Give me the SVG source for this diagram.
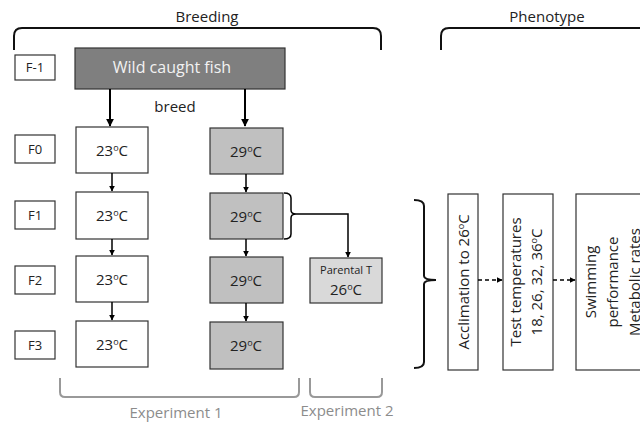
<svg xmlns="http://www.w3.org/2000/svg" width="640" height="424" viewBox="0 0 640 424">
<defs>
<marker id="ah" viewBox="0 0 10 10" refX="9" refY="5" markerWidth="4" markerHeight="4" orient="auto" markerUnits="strokeWidth"><path d="M0,0 L10,5 L0,10 z" fill="#000"/></marker>
<marker id="ah2" viewBox="0 0 10 10" refX="9" refY="5" markerWidth="5" markerHeight="5" orient="auto" markerUnits="strokeWidth"><path d="M0,0 L10,5 L0,10 z" fill="#000"/></marker>
</defs>
<style>
text{font-family:"Open Sans","Liberation Sans",sans-serif;fill:#222;}
.lbl{font-size:13px;text-anchor:middle;}
.t{font-size:15px;text-anchor:middle;}
.box{stroke:#333;stroke-width:1.2;}
.w{fill:#fff;}
.g{fill:#c0c0c0;}
.br{fill:none;stroke:#111;stroke-width:2;}
.gb{fill:none;stroke:#999;stroke-width:2;}
.ln{fill:none;stroke:#000;stroke-width:1.5;}
.sup{font-size:9px;}
</style>
<rect width="640" height="424" fill="#fff"/>
<text x="207" y="22" class="t">Breeding</text>
<text x="547" y="22" class="t">Phenotype</text>
<g id="labels">
<g id="lF-1"><rect x="15" y="55" width="40" height="25" class="box w"/><text x="35" y="72" class="lbl">F-1</text></g>
<g id="lF0"><rect x="15" y="135" width="40" height="28" class="box w"/><text x="35" y="154" class="lbl">F0</text></g>
<g id="lF1"><rect x="15" y="201" width="40" height="28" class="box w"/><text x="35" y="220" class="lbl">F1</text></g>
<g id="lF2"><rect x="15" y="266" width="40" height="28" class="box w"/><text x="35" y="285" class="lbl">F2</text></g>
<g id="lF3"><rect x="15" y="331" width="40" height="28" class="box w"/><text x="35" y="350" class="lbl">F3</text></g>
</g>
<g id="wild"><rect x="75" y="48" width="210" height="41" fill="#7f7f7f" class="box"/><text x="172" y="73" class="t" style="fill:#f2f2f2;font-size:16px">Wild caught fish</text></g>
<text x="175" y="112" class="t">breed</text>
<g id="c23_0"><rect x="76" y="127" width="72" height="46" class="box w"/><text x="112" y="156" class="t">23<tspan class="sup" dy="-5">o</tspan><tspan dy="5">C</tspan></text></g>
<g id="c23_1"><rect x="76" y="192" width="72" height="47" class="box w"/><text x="112" y="221" class="t">23<tspan class="sup" dy="-5">o</tspan><tspan dy="5">C</tspan></text></g>
<g id="c23_2"><rect x="76" y="256" width="72" height="46" class="box w"/><text x="112" y="285" class="t">23<tspan class="sup" dy="-5">o</tspan><tspan dy="5">C</tspan></text></g>
<g id="c23_3"><rect x="76" y="321" width="72" height="46" class="box w"/><text x="112" y="350" class="t">23<tspan class="sup" dy="-5">o</tspan><tspan dy="5">C</tspan></text></g>
<g id="c29_0"><rect x="210" y="128" width="73" height="46" class="box g"/><text x="246" y="157" class="t">29<tspan class="sup" dy="-5">o</tspan><tspan dy="5">C</tspan></text></g>
<g id="c29_1"><rect x="210" y="193" width="73" height="46" class="box g"/><text x="246" y="222" class="t">29<tspan class="sup" dy="-5">o</tspan><tspan dy="5">C</tspan></text></g>
<g id="c29_2"><rect x="210" y="257" width="73" height="46" class="box g"/><text x="246" y="286" class="t">29<tspan class="sup" dy="-5">o</tspan><tspan dy="5">C</tspan></text></g>
<g id="c29_3"><rect x="210" y="322" width="73" height="47" class="box g"/><text x="246" y="351" class="t">29<tspan class="sup" dy="-5">o</tspan><tspan dy="5">C</tspan></text></g>
<g id="parental"><rect x="310" y="258" width="72" height="45" fill="#d9d9d9" class="box"/><text x="346" y="274" class="lbl" style="font-size:11px">Parental T</text><text x="346" y="295" class="t">26<tspan class="sup" dy="-5">o</tspan><tspan dy="5">C</tspan></text></g>
<g id="accl"><rect x="448" y="194" width="30" height="176" class="box w"/><text transform="translate(469,282) rotate(-90)" class="t">Acclimation to 26<tspan class="sup" dy="-5">o</tspan><tspan dy="5">C</tspan></text></g>
<g id="test"><rect x="503" y="194" width="50" height="176" class="box w"/><text transform="translate(521,282) rotate(-90)" class="t">Test temperatures</text><text transform="translate(542,282) rotate(-90)" class="t">18, 26, 32, 36<tspan class="sup" dy="-5">o</tspan><tspan dy="5">C</tspan></text></g>
<g id="swim"><rect x="576" y="194" width="80" height="176" class="box w"/><text transform="translate(596,282) rotate(-90)" class="t">Swimming</text><text transform="translate(618,282) rotate(-90)" class="t">performance</text><text transform="translate(640,282) rotate(-90)" class="t">Metabolic rates</text></g>
<g id="connectors">
<path d="M14,50 L14,36 Q14,28 22,28 L373,28 Q381,28 381,36 L381,50" class="br"/>
<path d="M441,50 L441,36 Q441,28 449,28 L645,28" class="br"/>
<line x1="110" y1="89" x2="110" y2="126" class="ln" style="stroke-width:2" marker-end="url(#ah)"/>
<line x1="245" y1="89" x2="245" y2="126" class="ln" style="stroke-width:2" marker-end="url(#ah)"/>
<line x1="112" y1="173" x2="112" y2="191" class="ln" marker-end="url(#ah)"/>
<line x1="112" y1="239" x2="112" y2="255" class="ln" marker-end="url(#ah)"/>
<line x1="112" y1="302" x2="112" y2="320" class="ln" marker-end="url(#ah)"/>
<line x1="246" y1="174" x2="246" y2="192" class="ln" marker-end="url(#ah)"/>
<line x1="246" y1="239" x2="246" y2="256" class="ln" marker-end="url(#ah)"/>
<line x1="246" y1="303" x2="246" y2="321" class="ln" marker-end="url(#ah)"/>
<path d="M284,193 Q291,193 291,198 L291,210 Q291,214 296,214 Q291,214 291,218 L291,234 Q291,239 284,239" class="ln"/>
<path d="M296,214 L348,214 L348,257" class="ln" marker-end="url(#ah)"/>
<path d="M414,200 Q424,200 424,206 L424,276 Q424,280 436,280 Q424,280 424,284 L424,362 Q424,368 414,368" class="br"/>
<line x1="478" y1="280" x2="502" y2="280" class="ln" stroke-dasharray="4,3" marker-end="url(#ah)"/>
<line x1="553" y1="280" x2="575" y2="280" class="ln" stroke-dasharray="4,3" marker-end="url(#ah)"/>
<path d="M60,378 L60,392 Q60,397 65,397 L294,397 Q299,397 299,392 L299,378" class="gb"/>
<path d="M310,378 L310,392 Q310,397 315,397 L377,397 Q382,397 382,392 L382,378" class="gb"/>
</g>
<text x="176" y="418" class="t" style="fill:#8c8c8c">Experiment 1</text>
<text x="347" y="416" class="t" style="fill:#8c8c8c">Experiment 2</text>
</svg>
